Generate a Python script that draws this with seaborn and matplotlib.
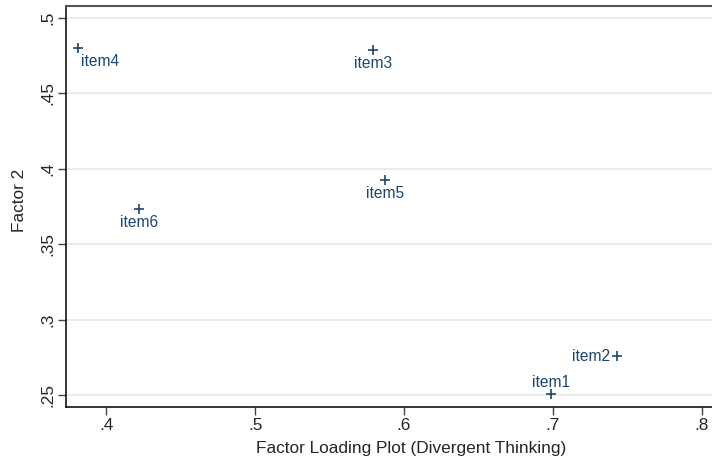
import matplotlib
matplotlib.use("Agg")
import matplotlib.pyplot as plt
import pandas as pd
import seaborn as sns

# factor loadings
items = ["item1", "item2", "item3", "item4", "item5", "item6"]
factor1 = [0.699, 0.743, 0.579, 0.381, 0.587, 0.422]
factor2 = [0.2507, 0.2758, 0.479, 0.480, 0.3927, 0.3735]

x_ticks = [0.4, 0.5, 0.6, 0.7, 0.8]
x_ticklabels = [".4", ".5", ".6", ".7", ".8"]
y_ticks = [0.25, 0.3, 0.35, 0.4, 0.45, 0.5]
y_ticklabels = [".25", ".3", ".35", ".4", ".45", ".5"]

# label placement (offset in points, alignment) mimicking Stata mlabpos
label_pos = {
    "item1": ((0, 3), "center", "bottom"),
    "item2": ((-5, 0), "right", "center"),
    "item3": ((0, -4.5), "center", "top"),
    "item4": ((2, -4.5), "left", "top"),
    "item5": ((0, -4.5), "center", "top"),
    "item6": ((0, -4.5), "center", "top"),
}

navy = "#1a476f"

df = pd.DataFrame({"item": items, "f1": factor1, "f2": factor2})

sns.set_style("white")
plt.rcParams["font.family"] = ["Liberation Sans", "DejaVu Sans"]

fig, ax = plt.subplots(figsize=(7.12, 4.61), dpi=100)
fig.subplots_adjust(left=0.093, right=1.0, top=0.987, bottom=0.117)

sns.scatterplot(data=df, x="f1", y="f2", marker="+", s=45, color=navy,
                linewidth=1.2, ax=ax, zorder=3)

for _, row in df.iterrows():
    off, ha, va = label_pos[row["item"]]
    ax.annotate(row["item"], (row["f1"], row["f2"]), xytext=off,
                textcoords="offset points", ha=ha, va=va,
                fontsize=11.2, color=navy)

ax.set_xlim(0.373, 0.807)
ax.set_ylim(0.242, 0.508)
ax.set_xticks(x_ticks)
ax.set_xticklabels(x_ticklabels, fontsize=12.4)
ax.set_yticks(y_ticks)
ax.set_yticklabels(y_ticklabels, fontsize=12.4, rotation=90, va="center")

ax.yaxis.grid(True, color="#e8e8e8", linewidth=1.2)
ax.xaxis.grid(False)
ax.tick_params(axis="both", which="major", direction="out", length=6,
               width=1, color="#444444", bottom=True, left=True, pad=2)

ax.set_xlabel("Factor Loading Plot (Divergent Thinking)", fontsize=12.4)
ax.set_ylabel("Factor 2", fontsize=12.4)
# Stata centres the titles slightly off the plot region
ax.xaxis.set_label_coords(0.534, -0.085)
ax.yaxis.set_label_coords(-0.06, 0.515)

for side in ["left", "bottom"]:
    ax.spines[side].set_color("black")
    ax.spines[side].set_linewidth(1.1)
ax.spines["top"].set_color("#555555")
ax.spines["top"].set_linewidth(1.5)
ax.spines["right"].set_visible(False)

fig.savefig("out.png", dpi=100)
